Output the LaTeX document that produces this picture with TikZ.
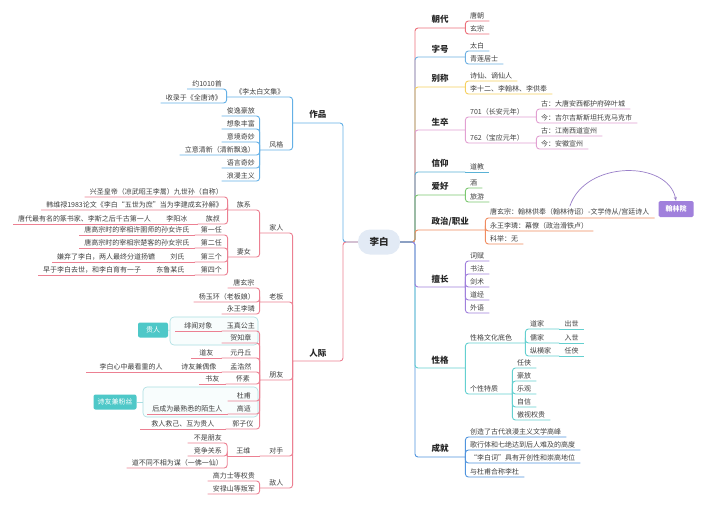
\documentclass[tikz,border=0pt]{standalone}
\usepackage{fontspec}
\setmainfont{Noto Sans CJK SC}
\usetikzlibrary{arrows.meta}
\definecolor{cRed}{RGB}{236,112,122}
\definecolor{cBlue}{RGB}{110,176,226}
\definecolor{cYel}{RGB}{246,208,96}
\definecolor{cPink}{RGB}{226,160,210}
\definecolor{cSky}{RGB}{90,178,214}
\definecolor{cGrn}{RGB}{124,200,112}
\definecolor{cOrg}{RGB}{240,140,96}
\definecolor{cPur}{RGB}{160,128,220}
\definecolor{cTeal}{RGB}{100,208,208}
\definecolor{cNavy}{RGB}{80,148,222}
\definecolor{cWork}{RGB}{100,176,230}
\definecolor{cRose}{RGB}{236,128,146}
\definecolor{cTag}{RGB}{78,200,200}
\definecolor{cBox}{RGB}{170,222,226}
\definecolor{cPill}{RGB}{226,234,245}
\definecolor{cTxt}{RGB}{64,64,64}
\begin{document}
\begin{tikzpicture}[
  x=1pt, y=-1pt,
  every node/.style={font=\fontsize{7}{8}\selectfont, text=cTxt},
  root/.style={fill=cPill, rounded corners=12pt, minimum width=42pt, minimum height=25pt, font=\fontsize{9.5}{11}\selectfont\bfseries, text=black!85},
  catr/.style={anchor=south west, minimum width=50pt, inner xsep=6pt, inner ysep=4pt, font=\fontsize{8.5}{10}\selectfont\bfseries, text=black!85},
  catl/.style={catr, anchor=south east},
  lr/.style={anchor=south west, inner xsep=5pt, inner ysep=2pt},
  ll/.style={anchor=south east, inner xsep=5pt, inner ysep=2pt},
  br/.style={line width=0.9pt, rounded corners=3pt},
  tag/.style={fill=cTag, text=white, rounded corners=2pt, minimum height=15pt, inner xsep=4pt},
  grp/.style={draw=cBox, fill=cTag!4, rounded corners=4pt, line width=0.6pt},
]
\fill[white] (0,0) rectangle (720,504);
\useasboundingbox (0,0) rectangle (720,504);

\node[grp, minimum width=88pt, minimum height=28pt] (gb1) at (214,331) {};
\node[grp, minimum width=115pt, minimum height=30pt] (gb2) at (200.5,402) {};
\node[tag, minimum width=30pt] (tg1) at (153,330) {贵人};
\node[tag] (tg2) at (115,402) {诗友兼粉丝};
\draw[cBox, line width=0.8pt] (tg1) -- (gb1);
\draw[cBox, line width=0.8pt] (tg2) -- (gb2);

\node[root] (lb) at (379,242) {李白};
\coordinate (rt) at (415,242);
\coordinate (lt) at (343,242);

\node[catr] (cd) at (415,28) {朝代};
\node[lr] (cd1) at (465,21) {唐朝};
\node[lr] (cd2) at (465,34) {玄宗};

\node[catr] (zh) at (415,57) {字号};
\node[lr] (zh1) at (465,51) {太白};
\node[lr] (zh2) at (465,64) {青莲居士};

\node[catr] (bc) at (415,87) {别称};
\node[lr] (bc1) at (465,81) {诗仙、谪仙人};
\node[lr] (bc2) at (465,94) {李十二、李翰林、李供奉};

\node[catr] (ss) at (415,130) {生卒};
\node[lr, text width=61pt, align=left] (ss1) at (465,117) {701（长安元年）};
\node[lr, text width=61pt, align=left] (ss2) at (465,143) {762（宝应元年）};
\node[lr] (ss11) at (536,109) {古：大唐安西都护府碎叶城};
\node[lr] (ss12) at (536,123) {今：吉尔吉斯斯坦托克马克市};
\node[lr] (ss21) at (536,136) {古：江南西道宣州};
\node[lr] (ss22) at (536,149) {今：安徽宣州};

\node[catr] (xy) at (415,172) {信仰};
\node[lr] (xy1) at (465,172) {道教};

\node[catr] (ah) at (415,195) {爱好};
\node[lr] (ah1) at (465,188) {酒};
\node[lr] (ah2) at (465,202) {旅游};

\node[catr, minimum width=70pt] (zz) at (415,230) {政治/职业};
\node[lr] (zz1) at (485,218) {唐玄宗：翰林供奉（翰林待诏）-文学侍从/宫廷诗人};
\node[lr] (zz2) at (485,231) {永王李璘：幕僚（政治滑铁卢）};
\node[lr] (zz3) at (485,244) {科举：无};
\node[fill=cPur, text=white, font=\fontsize{7}{8}\selectfont\bfseries, minimum width=35pt, minimum height=16pt, rounded corners=1.5pt] (hly) at (676,209) {翰林院};

\node[catr] (sc) at (415,287) {擅长};
\node[lr] (sc1) at (465,261) {词赋};
\node[lr] (sc2) at (465,274) {书法};
\node[lr] (sc3) at (465,287) {剑术};
\node[lr] (sc4) at (465,300) {道经};
\node[lr] (sc5) at (465,313) {外语};

\node[catr] (xg) at (415,368) {性格};
\node[lr, text width=50pt, align=left] (xg1) at (465,343) {性格文化底色};
\node[lr, text width=24pt, align=left] (xg11) at (525,329) {道家};
\node[lr] (xg111) at (xg11.south east) {出世};
\node[lr, text width=24pt, align=left] (xg12) at (525,343) {儒家};
\node[lr] (xg121) at (xg12.south east) {入世};
\node[lr, text width=24pt, align=left] (xg13) at (525,356) {纵横家};
\node[lr] (xg131) at (xg13.south east) {任侠};
\node[lr, text width=37pt, align=left] (xg2) at (465,394) {个性特质};
\node[lr] (xg21) at (512,368) {任侠};
\node[lr] (xg22) at (512,381) {豪放};
\node[lr] (xg23) at (512,394) {乐观};
\node[lr] (xg24) at (512,407) {自信};
\node[lr] (xg25) at (512,420) {傲视权贵};

\node[catr] (cj) at (415,457) {成就};
\node[lr] (cj1) at (465,437) {创造了古代浪漫主义文学高峰};
\node[lr] (cj2) at (465,450) {歌行体和七绝达到后人难及的高度};
\node[lr] (cj3) at (465,463) {“李白词”具有开创性和崇高地位};
\node[lr] (cj4) at (465,477) {与杜甫合称李杜};

\node[catl] (zp) at (343,123) {作品};
\node[ll, minimum width=66pt] (wj) at (293,97) {《李太白文集》};
\node[ll] (wj1) at (227,89) {约1010首};
\node[ll] (wj2) at (227,103) {收录于《全唐诗》};
\node[ll, minimum width=33pt] (fg) at (293,150) {风格};
\node[ll] (fg1) at (260,116) {俊逸豪放};
\node[ll] (fg2) at (260,129) {想象丰富};
\node[ll] (fg3) at (260,142) {意境奇妙};
\node[ll] (fg4) at (260,155) {立意清新（清新飘逸）};
\node[ll] (fg5) at (260,168) {语言奇妙};
\node[ll] (fg6) at (260,181) {浪漫主义};

\node[catl] (rj) at (343,361) {人际};
\node[ll, minimum width=33pt] (jr) at (293,233) {家人};
\node[ll, minimum width=32pt] (zx) at (260,210) {族系};
\node[ll] (zx1) at (228,197) {兴圣皇帝（凉武昭王李暠）九世孙（自称）};
\node[ll] (zx2) at (228,210) {韩维禄1983论文《李白“五世为庶”当为李建成玄孙解》};
\node[ll, minimum width=30pt] (zx3) at (228,224) {族叔};
\node[ll, minimum width=41pt] (zx31) at (zx3.south west) {李阳冰};
\node[ll] (zx311) at (zx31.south west) {唐代最有名的篆书家、李斯之后千古第一人};
\node[ll, minimum width=32pt] (qn) at (260,257) {妻女};
\node[ll, minimum width=33pt] (qn1) at (228,235) {第一任};
\node[ll] (qn11) at (qn1.south west) {唐高宗时的宰相许圉师的孙女许氏};
\node[ll, minimum width=33pt] (qn2) at (228,248) {第二任};
\node[ll] (qn21) at (qn2.south west) {唐高宗时的宰相宗楚客的孙女宗氏};
\node[ll, minimum width=33pt] (qn3) at (228,262) {第三个};
\node[ll, minimum width=34pt] (qn31) at (qn3.south west) {刘氏};
\node[ll] (qn311) at (qn31.south west) {嫌弃了李白，两人最终分道扬镳};
\node[ll, minimum width=33pt] (qn4) at (228,275) {第四个};
\node[ll, minimum width=48pt] (qn41) at (qn4.south west) {东鲁某氏};
\node[ll] (qn411) at (qn41.south west) {早于李白去世，和李白育有一子};

\node[ll, minimum width=33pt] (lbn) at (293,302) {老板};
\node[ll, minimum width=32pt] (lbn1) at (260,288) {唐玄宗};
\node[ll] (lbn2) at (260,302) {杨玉环（老板娘）};
\node[ll] (lbn3) at (260,314) {永王李璘};

\node[ll, minimum width=33pt] (py) at (293,380) {朋友};
\node[ll, minimum width=38pt] (py1) at (260,331) {玉真公主};
\node[ll, minimum width=46pt] (py11) at (py1.south west) {绯闻对象};
\node[ll, minimum width=38pt] (py2) at (260,343) {贺知章};
\node[ll, minimum width=38pt] (py3) at (260,358) {元丹丘};
\node[ll, minimum width=30pt] (py31) at (py3.south west) {道友};
\node[ll, minimum width=38pt] (py4) at (260,372) {孟浩然};
\node[ll, minimum width=45pt] (py41) at (py4.south west) {诗友兼偶像};
\node[ll, minimum width=90pt] (py411) at (py41.south west) {李白心中最看重的人};
\node[ll, minimum width=34pt] (py5) at (260,384) {怀素};
\node[ll, minimum width=26pt] (py51) at (py5.south west) {书友};
\node[ll, minimum width=32pt] (py6) at (260,401) {杜甫};
\node[ll, minimum width=32pt] (py7) at (260,414) {高适};
\node[ll, minimum width=80pt] (py71) at (py7.south west) {后成为最熟悉的陌生人};
\node[ll, minimum width=34pt] (py8) at (260,429) {郭子仪};
\node[ll, minimum width=85pt] (py81) at (py8.south west) {救人救己、互为贵人};

\node[ll, minimum width=33pt] (ds) at (293,456) {对手};
\node[ll, minimum width=32pt] (ds1) at (ds.south west) {王维};
\node[ll, minimum width=40pt] (ds11) at (228,443) {不是朋友};
\node[ll, minimum width=40pt] (ds12) at (228,456) {竞争关系};
\node[ll] (ds13) at (228,468) {道不同不相为谋（一佛一仙）};

\node[ll, minimum width=33pt] (dr) at (293,488) {敌人};
\node[ll] (dr1) at (260,481) {高力士等权贵};
\node[ll] (dr2) at (260,494) {安禄山等叛军};

\draw[br, cRed] (lb.east) -- (rt) |- (cd.south east);
\draw[br, cBlue] (lb.east) -- (rt) |- (zh.south east);
\draw[br, cYel] (lb.east) -- (rt) |- (bc.south east);
\draw[br, cPink] (lb.east) -- (rt) |- (ss.south east);
\draw[br, cSky] (lb.east) -- (rt) |- (xy.south east);
\draw[br, cGrn] (lb.east) -- (rt) |- (ah.south east);
\draw[br, cOrg] (lb.east) -- (rt) |- (zz.south east);
\draw[br, cNavy] (lb.east) -- (rt) |- (cj.south east);
\draw[br, cTeal] (lb.east) -- (rt) |- (xg.south east);
\draw[br, cPur] (lb.east) -- (rt) |- (sc.south east);

\draw[br, cRed] (cd.south east) |- (cd1.south east);
\draw[br, cRed] (cd.south east) |- (cd2.south east);
\draw[br, cBlue] (zh.south east) |- (zh1.south east);
\draw[br, cBlue] (zh.south east) |- (zh2.south east);
\draw[br, cYel] (bc.south east) |- (bc1.south east);
\draw[br, cYel] (bc.south east) |- (bc2.south east);
\draw[br, cPink] (ss.south east) |- (ss1.south east);
\draw[br, cPink] (ss.south east) |- (ss2.south east);
\draw[br, cPink] (ss1.south east) |- (ss11.south east);
\draw[br, cPink] (ss1.south east) |- (ss12.south east);
\draw[br, cPink] (ss2.south east) |- (ss21.south east);
\draw[br, cPink] (ss2.south east) |- (ss22.south east);
\draw[br, cSky] (xy.south east) -- (xy1.south east);
\draw[br, cGrn] (ah.south east) |- (ah1.south east);
\draw[br, cGrn] (ah.south east) |- (ah2.south east);
\draw[br, cOrg] (zz.south east) |- (zz1.south east);
\draw[br, cOrg] (zz.south east) |- (zz2.south east);
\draw[br, cOrg] (zz.south east) |- (zz3.south east);
\draw[-{Stealth[length=4pt]}, cPur!80!gray, line width=0.7pt] (zz1.north) .. controls (585,160) and (668,160) .. (hly.north);
\draw[br, cPur] (sc.south east) |- (sc1.south east);
\draw[br, cPur] (sc.south east) |- (sc2.south east);
\draw[br, cPur] (sc.south east) |- (sc3.south east);
\draw[br, cPur] (sc.south east) |- (sc4.south east);
\draw[br, cPur] (sc.south east) |- (sc5.south east);
\draw[br, cTeal] (xg.south east) |- (xg1.south east);
\draw[br, cTeal] (xg.south east) |- (xg2.south east);
\draw[br, cTeal] (xg1.south east) |- (xg11.south east);
\draw[br, cTeal] (xg1.south east) |- (xg12.south east);
\draw[br, cTeal] (xg1.south east) |- (xg13.south east);
\draw[br, cTeal] (xg11.south east) -- (xg111.south east);
\draw[br, cTeal] (xg12.south east) -- (xg121.south east);
\draw[br, cTeal] (xg13.south east) -- (xg131.south east);
\draw[br, cTeal] (xg2.south east) |- (xg21.south east);
\draw[br, cTeal] (xg2.south east) |- (xg22.south east);
\draw[br, cTeal] (xg2.south east) |- (xg23.south east);
\draw[br, cTeal] (xg2.south east) |- (xg24.south east);
\draw[br, cTeal] (xg2.south east) |- (xg25.south east);
\draw[br, cNavy] (cj.south east) |- (cj1.south east);
\draw[br, cNavy] (cj.south east) |- (cj2.south east);
\draw[br, cNavy] (cj.south east) |- (cj3.south east);
\draw[br, cNavy] (cj.south east) |- (cj4.south east);

\draw[br, cWork] (lb.west) -- (lt) |- (zp.south west);
\draw[br, cRose] (lb.west) -- (lt) |- (rj.south west);
\draw[br, cWork] (zp.south west) |- (wj.south west);
\draw[br, cWork] (zp.south west) |- (fg.south west);
\draw[br, cWork] (wj.south west) |- (wj1.south west);
\draw[br, cWork] (wj.south west) |- (wj2.south west);
\draw[br, cWork] (fg.south west) |- (fg1.south west);
\draw[br, cWork] (fg.south west) |- (fg2.south west);
\draw[br, cWork] (fg.south west) |- (fg3.south west);
\draw[br, cWork] (fg.south west) |- (fg4.south west);
\draw[br, cWork] (fg.south west) |- (fg5.south west);
\draw[br, cWork] (fg.south west) |- (fg6.south west);

\draw[br, cRose] (rj.south west) |- (jr.south west);
\draw[br, cRose] (rj.south west) |- (lbn.south west);
\draw[br, cRose] (rj.south west) |- (py.south west);
\draw[br, cRose] (rj.south west) |- (ds.south west);
\draw[br, cRose] (rj.south west) |- (dr.south west);
\draw[br, cRose] (jr.south west) |- (zx.south west);
\draw[br, cRose] (jr.south west) |- (qn.south west);
\draw[br, cRose] (zx.south west) |- (zx1.south west);
\draw[br, cRose] (zx.south west) |- (zx2.south west);
\draw[br, cRose] (zx.south west) |- (zx3.south west);
\draw[br, cRose] (zx3.south west) -- (zx31.south west);
\draw[br, cRose] (zx31.south west) -- (zx311.south west);
\draw[br, cRose] (qn.south west) |- (qn1.south west);
\draw[br, cRose] (qn.south west) |- (qn2.south west);
\draw[br, cRose] (qn.south west) |- (qn3.south west);
\draw[br, cRose] (qn.south west) |- (qn4.south west);
\draw[br, cRose] (qn1.south west) -- (qn11.south west);
\draw[br, cRose] (qn2.south west) -- (qn21.south west);
\draw[br, cRose] (qn3.south west) -- (qn31.south west);
\draw[br, cRose] (qn31.south west) -- (qn311.south west);
\draw[br, cRose] (qn4.south west) -- (qn41.south west);
\draw[br, cRose] (qn41.south west) -- (qn411.south west);
\draw[br, cRose] (lbn.south west) |- (lbn1.south west);
\draw[br, cRose] (lbn.south west) |- (lbn2.south west);
\draw[br, cRose] (lbn.south west) |- (lbn3.south west);
\draw[br, cRose] (py.south west) |- (py1.south west);
\draw[br, cRose] (py.south west) |- (py2.south west);
\draw[br, cRose] (py.south west) |- (py3.south west);
\draw[br, cRose] (py.south west) |- (py4.south west);
\draw[br, cRose] (py.south west) |- (py5.south west);
\draw[br, cRose] (py.south west) |- (py6.south west);
\draw[br, cRose] (py.south west) |- (py7.south west);
\draw[br, cRose] (py.south west) |- (py8.south west);
\draw[br, cRose] (py1.south west) -- (py11.south west);
\draw[br, cRose] (py3.south west) -- (py31.south west);
\draw[br, cRose] (py4.south west) -- (py41.south west);
\draw[br, cRose] (py41.south west) -- (py411.south west);
\draw[br, cRose] (py5.south west) -- (py51.south west);
\draw[br, cRose] (py7.south west) -- (py71.south west);
\draw[br, cRose] (py8.south west) -- (py81.south west);
\draw[br, cRose] (ds.south west) -- (ds1.south west);
\draw[br, cRose] (ds1.south west) |- (ds11.south west);
\draw[br, cRose] (ds1.south west) |- (ds12.south west);
\draw[br, cRose] (ds1.south west) |- (ds13.south west);
\draw[br, cRose] (dr.south west) |- (dr1.south west);
\draw[br, cRose] (dr.south west) |- (dr2.south west);
\end{tikzpicture}
\end{document}
